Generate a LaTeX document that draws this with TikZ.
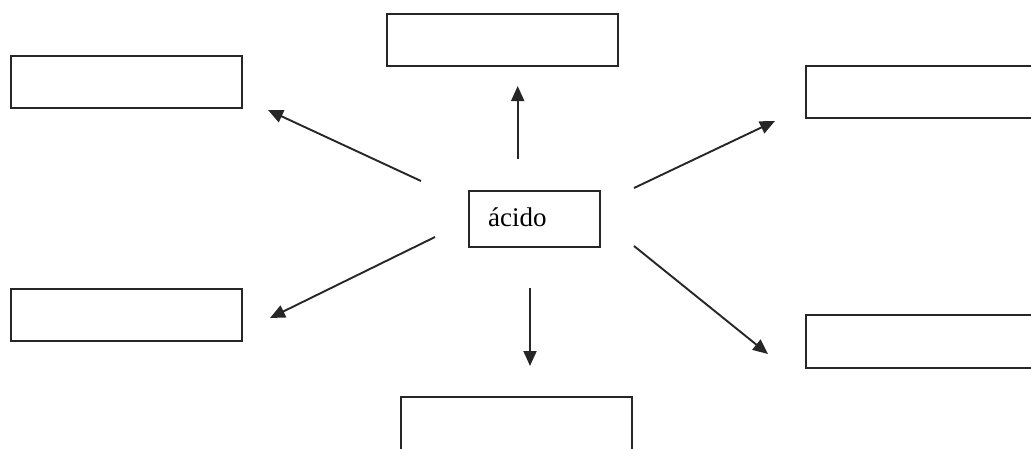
\documentclass[tikz,border=0pt]{standalone}
\usepackage{fontspec}
\setmainfont{Liberation Serif}
\usetikzlibrary{arrows.meta}
\begin{document}
\begin{tikzpicture}[x=1pt,y=-1pt,
  box/.style={draw=black!85,line width=1.9pt,rectangle,inner sep=0pt,minimum width=231pt,minimum height=52.5pt},
  conn/.style={draw=black!85,line width=1.9pt,-{Triangle[length=15pt,width=13pt]}}]
\useasboundingbox (0,0) rectangle (1031,448);
\node[box] (tl) at (126.3,82) {};
\node[box] (tc) at (502.8,40) {};
\node[box] (tr) at (921.5,92) {};
\node[box,minimum width=131pt,minimum height=56.5pt] (c) at (534.8,219) {};
\node[anchor=base west,font=\fontsize{27}{27}\selectfont,inner sep=0pt] (ct) at (488,226) {ácido};
\node[box] (bl) at (126.3,315) {};
\node[box,minimum height=54pt] (bc) at (516.5,424.3) {};
\node[box] (br) at (921.5,341.5) {};
\coordinate (u0) at (517.7,159); \coordinate (u1) at (517.7,86);
\coordinate (d0) at (530,288); \coordinate (d1) at (530,366);
\coordinate (ul0) at (421,181); \coordinate (ul1) at (268,110);
\coordinate (ur0) at (634,188); \coordinate (ur1) at (775,121);
\coordinate (ll0) at (435,237); \coordinate (ll1) at (270,318);
\coordinate (lr0) at (634,246); \coordinate (lr1) at (768,354);
\draw[conn] (u0) -- (u1);
\draw[conn] (d0) -- (d1);
\draw[conn] (ul0) -- (ul1);
\draw[conn] (ur0) -- (ur1);
\draw[conn] (ll0) -- (ll1);
\draw[conn] (lr0) -- (lr1);
\end{tikzpicture}
\end{document}
